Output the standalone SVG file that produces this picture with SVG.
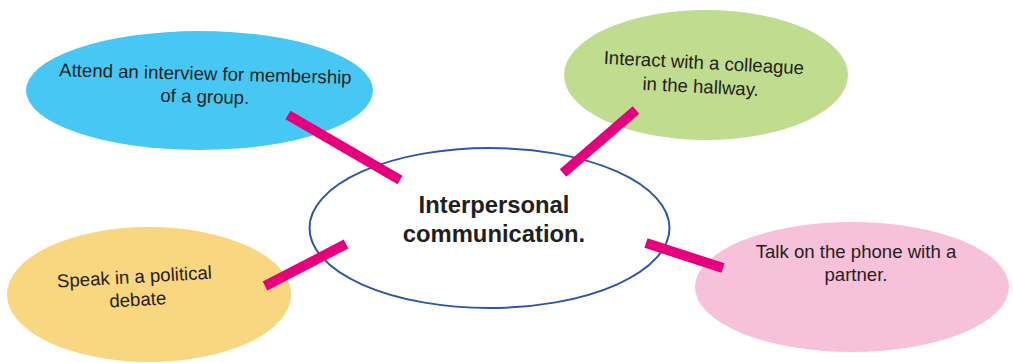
<svg xmlns="http://www.w3.org/2000/svg" width="1013" height="363" viewBox="0 0 1013 363">
<style>
.t{font-family:"Liberation Sans",Arial,sans-serif;font-size:18.6px;fill:#231f20;text-anchor:middle}
.c{font-family:"Liberation Sans",Arial,sans-serif;font-size:23.8px;font-weight:bold;fill:#231f20;text-anchor:middle}
.k{stroke:#e6007e;stroke-width:10;stroke-linecap:butt;fill:none}
</style>
<rect width="1013" height="363" fill="#ffffff"/>
<g id="node-interview">
<ellipse cx="199.5" cy="90.5" rx="173.5" ry="59.5" fill="#47c7f4"/>
<g transform="rotate(1.5 205 90)">
<text class="t" x="205" y="80">Attend an interview for membership</text>
<text class="t" x="205" y="103">of a group.</text>
</g>
</g>
<g id="node-colleague">
<ellipse cx="706" cy="75" rx="142" ry="65" fill="#bfdc8f"/>
<g transform="rotate(3 702 80)">
<text class="t" x="703" y="69">Interact with a colleague</text>
<text class="t" x="701" y="93">in the hallway.</text>
</g>
</g>
<g id="node-debate">
<ellipse cx="149" cy="294.5" rx="142" ry="67.5" fill="#f9d680"/>
<g transform="rotate(-3.3 136 287)">
<text class="t" x="135" y="283">Speak in a political</text>
<text class="t" x="137" y="306">debate</text>
</g>
</g>
<g id="node-phone">
<ellipse cx="852" cy="287" rx="157" ry="65" fill="#f7c1da"/>
<text class="t" x="856" y="258">Talk on the phone with a</text>
<text class="t" x="856" y="281">partner.</text>
</g>
<g id="node-center">
<ellipse cx="489.5" cy="228" rx="180" ry="80" fill="#ffffff" stroke="#2a57a6" stroke-width="2"/>
<text class="c" x="494" y="213">Interpersonal</text>
<text class="c" x="494" y="242">communication.</text>
</g>
<g id="connectors">
<line class="k" x1="288" y1="115" x2="400" y2="180"/>
<line class="k" x1="636" y1="110" x2="563" y2="173"/>
<line class="k" x1="265" y1="286" x2="346" y2="244"/>
<line class="k" x1="646" y1="243" x2="723" y2="268"/>
</g>
</svg>
